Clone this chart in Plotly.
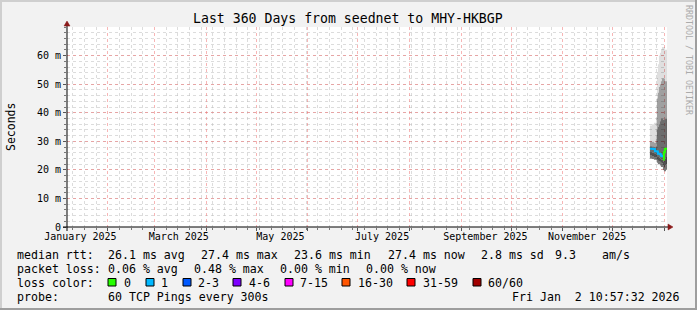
import plotly.graph_objects as go
import pandas as pd

# ---------------- data ----------------
X_START = "2025-01-07 10:57:32"
X_END = "2026-01-02 10:57:32"
Y_MAX = 70

sample_times = [
    "2025-12-23 05:00", "2025-12-23 19:24", "2025-12-24 09:48", "2025-12-25 00:12",
    "2025-12-25 14:36", "2025-12-26 05:00", "2025-12-26 19:24", "2025-12-27 09:48",
    "2025-12-28 00:12", "2025-12-28 14:36", "2025-12-29 05:00", "2025-12-29 19:24",
    "2025-12-30 09:48", "2025-12-31 00:12", "2025-12-31 14:36", "2026-01-01 05:00",
    "2026-01-01 19:24",
]
median_ms = [27.4, 27.4, 27.4, 27.3, 27.3, 26.5, 26.5, 26.4, 25.6, 25.6, 25.5,
             24.9, 24.8, 23.6, 26.2, 27.4, 27.4]
loss_count = [1, 1, 1, 1, 1, 1, 1, 1, 1, 1, 1, 1, 1, 0, 0, 0, 0]

smoke_lo = [24.0, 24.0, 23.8, 23.8, 23.5, 23.5, 23.5,
            22.5, 22.0, 22.0, 21.5, 21.0, 21.0, 20.0, 19.5, 19.5, 20.0]
smoke_p10 = [25.0, 25.0, 24.8, 24.8, 24.5, 24.5, 24.3,
             23.5, 23.2, 23.0, 22.8, 22.5, 22.3, 21.5, 21.0, 21.5, 22.0]
smoke_p25 = [26.2, 26.2, 26.0, 26.0, 25.8, 25.6, 25.3,
             24.8, 24.5, 24.2, 24.0, 23.6, 23.5, 22.8, 23.2, 24.0, 24.5]
smoke_p75 = [28.3, 28.3, 28.2, 28.2, 28.0, 27.8, 28.3,
             34.0, 35.0, 36.0, 37.0, 38.0, 38.0, 37.5, 37.5, 38.0, 38.0]
smoke_p90 = [30.0, 30.0, 29.8, 29.8, 29.5, 29.5, 31.0,
             45.0, 47.0, 49.0, 50.0, 51.0, 52.0, 52.0, 52.0, 51.0, 51.0]
smoke_hi = [35.5, 35.5, 36.0, 36.0, 36.5, 36.5, 38.0,
            54.0, 57.0, 60.0, 61.0, 62.0, 63.0, 63.0, 63.0, 62.0, 62.0]

month_label_dates = ["2025-01-15 12:00", "2025-03-15 12:00", "2025-05-15 12:00",
                     "2025-07-15 12:00", "2025-09-15 12:00", "2025-11-15 12:00"]
month_labels = ["January 2025", "March 2025", "May 2025", "July 2025",
                "September 2025", "November 2025"]
y_tick_vals = [0, 10, 20, 30, 40, 50, 60]
y_tick_text = ["0", "10 m", "20 m", "30 m", "40 m", "50 m", "60 m"]

loss_buckets = [("0", 0, 0, "#26ff00"), ("1", 1, 1, "#00b8ff"), ("2-3", 2, 3, "#0059ff"),
                ("4-6", 4, 6, "#7e00ff"), ("7-15", 7, 15, "#ff00ff"),
                ("16-30", 16, 30, "#ff5500"), ("31-59", 31, 59, "#ff0000"),
                ("60/60", 60, 60, "#a10000")]

title_text = "Last 360 Days from seednet to MHY-HKBGP"
row_median = [("median rtt:", 16), ("26.1 ms avg", 107), ("27.4 ms max", 200),
              ("23.6 ms min", 293), ("27.4 ms now", 386.5), ("2.8 ms sd", 480),
              ("9.3", 554), ("am/s", 600.5)]
row_loss = [("packet loss:", 16), ("0.06 % avg", 107), ("0.48 % max", 193),
            ("0.00 % min", 279), ("0.00 % now", 365)]
legend_box_x = [108, 146, 183, 233, 285, 342, 407, 473]
legend_label_x = [123, 160, 197, 248, 299, 357, 422, 487]
probe_text = "60 TCP Pings every 300s"
stamp_text = "Fri Jan  2 10:57:32 2026"

# ---------------- layout helpers ----------------
W, H = 697, 310
ML, MR, MT, MB = 67, 30, 27, 83
PW, PH = W - ML - MR, H - MT - MB
MONO = "DejaVu Sans Mono"


def px(x):
    return (x - ML) / PW


def py(y):
    return (H - MB - y) / PH


def nb(s):
    return s.replace(" ", "\u00a0")


fig = go.Figure()

# ---------------- smoke ----------------
t = pd.to_datetime(sample_times)
t_end = pd.to_datetime(X_END)
edges = list(t[1:]) + [t_end]
widths = [(e - s).total_seconds() * 1000 for s, e in zip(t, edges)]

bands = [
    (smoke_lo, smoke_p10, "rgba(0,0,0,0.55)"),
    (smoke_p10, smoke_p25, "rgba(0,0,0,0.72)"),
    (smoke_p25, smoke_p75, "rgba(0,0,0,0.60)"),
    (smoke_p75, smoke_p90, "rgba(0,0,0,0.38)"),
    (smoke_p90, smoke_hi, "rgba(0,0,0,0.13)"),
]
for low, up, col in bands:
    fig.add_trace(go.Bar(
        x=sample_times, y=[u - l for l, u in zip(low, up)], base=low,
        width=widths, offset=0, marker=dict(color=col, line=dict(width=0)),
        showlegend=False, hoverinfo="skip"))

# ---------------- median coloured by loss ----------------
def bucket_of(n):
    for i, (_, lo_, hi_, _) in enumerate(loss_buckets):
        if lo_ <= n <= hi_:
            return i
    return None

all_edges = sample_times + [X_END]
for bi, (_, _, _, col) in enumerate(loss_buckets):
    xs, ys = [], []
    i = 0
    n = len(sample_times)
    while i < n:
        if bucket_of(loss_count[i]) == bi:
            j = i
            while j + 1 < n and bucket_of(loss_count[j + 1]) == bi:
                j += 1
            xs += all_edges[i:j + 1] + [all_edges[j + 1], None]
            ys += median_ms[i:j + 1] + [median_ms[j], None]
            i = j + 1
        else:
            i += 1
    if xs:
        fig.add_trace(go.Scatter(x=xs, y=ys, mode="lines",
                                 line=dict(color=col, width=2, shape="hv"),
                                 showlegend=False, hoverinfo="skip"))

# invisible trace on label axis
fig.add_trace(go.Scatter(x=month_label_dates, y=[None] * len(month_label_dates),
                         xaxis="x2", mode="markers", showlegend=False,
                         hoverinfo="skip"))

GRID_MIN = "rgba(185,185,185,0.5)"
GRID_MAJ = "rgba(240,110,110,0.5)"

fig.update_layout(
    width=W, height=H,
    margin=dict(l=ML, r=MR, t=MT, b=MB, pad=0),
    paper_bgcolor="#F2F2F2", plot_bgcolor="#FFFFFF",
    barmode="overlay", showlegend=False,
    font=dict(family=MONO, size=10, color="#000"),
    xaxis=dict(
        type="date", range=[X_START, X_END], showticklabels=False,
        tick0="2025-01-01", dtick="M1", ticks="outside", ticklen=3,
        tickcolor="#555", showgrid=True, gridcolor=GRID_MAJ, griddash="dot",
        gridwidth=1, zeroline=False, showline=False, fixedrange=True,
        minor=dict(tick0="2025-01-11", dtick=7 * 86400000, showgrid=True,
                   gridcolor=GRID_MIN, griddash="dot", gridwidth=1,
                   ticks="outside", ticklen=2, tickcolor="#777"),
    ),
    xaxis2=dict(
        type="date", range=[X_START, X_END], overlaying="x", anchor="y",
        side="bottom", tickmode="array", tickvals=month_label_dates,
        ticktext=month_labels, ticks="", showgrid=False, zeroline=False,
        showline=False, tickfont=dict(family=MONO, size=10, color="#000"),
        ticklabelstandoff=2,
    ),
    yaxis=dict(
        range=[0, Y_MAX], tickmode="array", tickvals=y_tick_vals,
        ticktext=y_tick_text, ticks="outside", ticklen=3, tickcolor="#555",
        showgrid=True, gridcolor=GRID_MAJ, griddash="dot", gridwidth=1,
        zeroline=False, showline=False,
        tickfont=dict(family=MONO, size=10, color="#000"),
        minor=dict(dtick=2, showgrid=True, gridcolor=GRID_MIN, griddash="dot",
                   gridwidth=1, ticks="outside", ticklen=2, tickcolor="#777"),
    ),
)

shapes = []
# frame shading
shapes.append(dict(type="rect", xref="paper", yref="paper", x0=px(0), x1=px(W),
                   y0=py(0), y1=py(2), fillcolor="#CFCFCF", line=dict(width=0), layer="below"))
shapes.append(dict(type="rect", xref="paper", yref="paper", x0=px(0), x1=px(2),
                   y0=py(0), y1=py(H), fillcolor="#CFCFCF", line=dict(width=0), layer="below"))
shapes.append(dict(type="rect", xref="paper", yref="paper", x0=px(0), x1=px(W),
                   y0=py(H - 2), y1=py(H), fillcolor="#9E9E9E", line=dict(width=0), layer="below"))
shapes.append(dict(type="rect", xref="paper", yref="paper", x0=px(W - 2), x1=px(W),
                   y0=py(0), y1=py(H), fillcolor="#9E9E9E", line=dict(width=0), layer="below"))
# axes with arrows
shapes.append(dict(type="line", xref="paper", yref="paper", x0=px(63), x1=px(670),
                   y0=py(227), y1=py(227), line=dict(color="#000", width=1)))
shapes.append(dict(type="line", xref="paper", yref="paper", x0=px(67), x1=px(67),
                   y0=py(231), y1=py(24), line=dict(color="#000", width=1)))
shapes.append(dict(type="path", xref="paper", yref="paper",
                   path=f"M {px(668)} {py(224)} L {px(673)} {py(227)} L {px(668)} {py(230)} Z",
                   fillcolor="#8B1A1A", line=dict(color="#8B1A1A", width=0.5)))
shapes.append(dict(type="path", xref="paper", yref="paper",
                   path=f"M {px(64)} {py(26)} L {px(67)} {py(21)} L {px(70)} {py(26)} Z",
                   fillcolor="#8B1A1A", line=dict(color="#8B1A1A", width=0.5)))
# loss colour boxes
for bx, (_, _, _, col) in zip(legend_box_x, loss_buckets):
    shapes.append(dict(type="rect", xref="paper", yref="paper",
                       x0=px(bx), x1=px(bx + 8), y0=py(278.5), y1=py(286),
                       fillcolor=col, line=dict(color="#000", width=1)))
fig.update_layout(shapes=shapes)

ann = []


def text(s, x, y, size=11.6, anchor="left", color="#000", angle=0, yanchor="middle"):
    ann.append(dict(text=nb(s), x=px(x), y=py(y), xref="paper", yref="paper",
                    xanchor=anchor, yanchor=yanchor, showarrow=False, textangle=angle,
                    font=dict(family=MONO, size=size, color=color), borderpad=0))


text(title_text, 347.5, 18.5, size=13.2, anchor="center")
text("Seconds", 11, 127, size=11.5, anchor="center", angle=-90)
text("RRDTOOL / TOBI OETIKER", 689, 60, size=8.3, anchor="center", color="#ABABAB", angle=90)
for s, x in row_median:
    text(s, x, 254.5)
for s, x in row_loss:
    text(s, x, 268.5)
text("loss color:", 16, 282.5)
for lx, (lab, _, _, _) in zip(legend_label_x, loss_buckets):
    text(lab, lx, 282.5)
text("probe:", 16, 296.5)
text(probe_text, 107, 296.5)
text(stamp_text, 681, 296.5, anchor="right")
fig.update_layout(annotations=ann)

fig.write_html("out.html")
